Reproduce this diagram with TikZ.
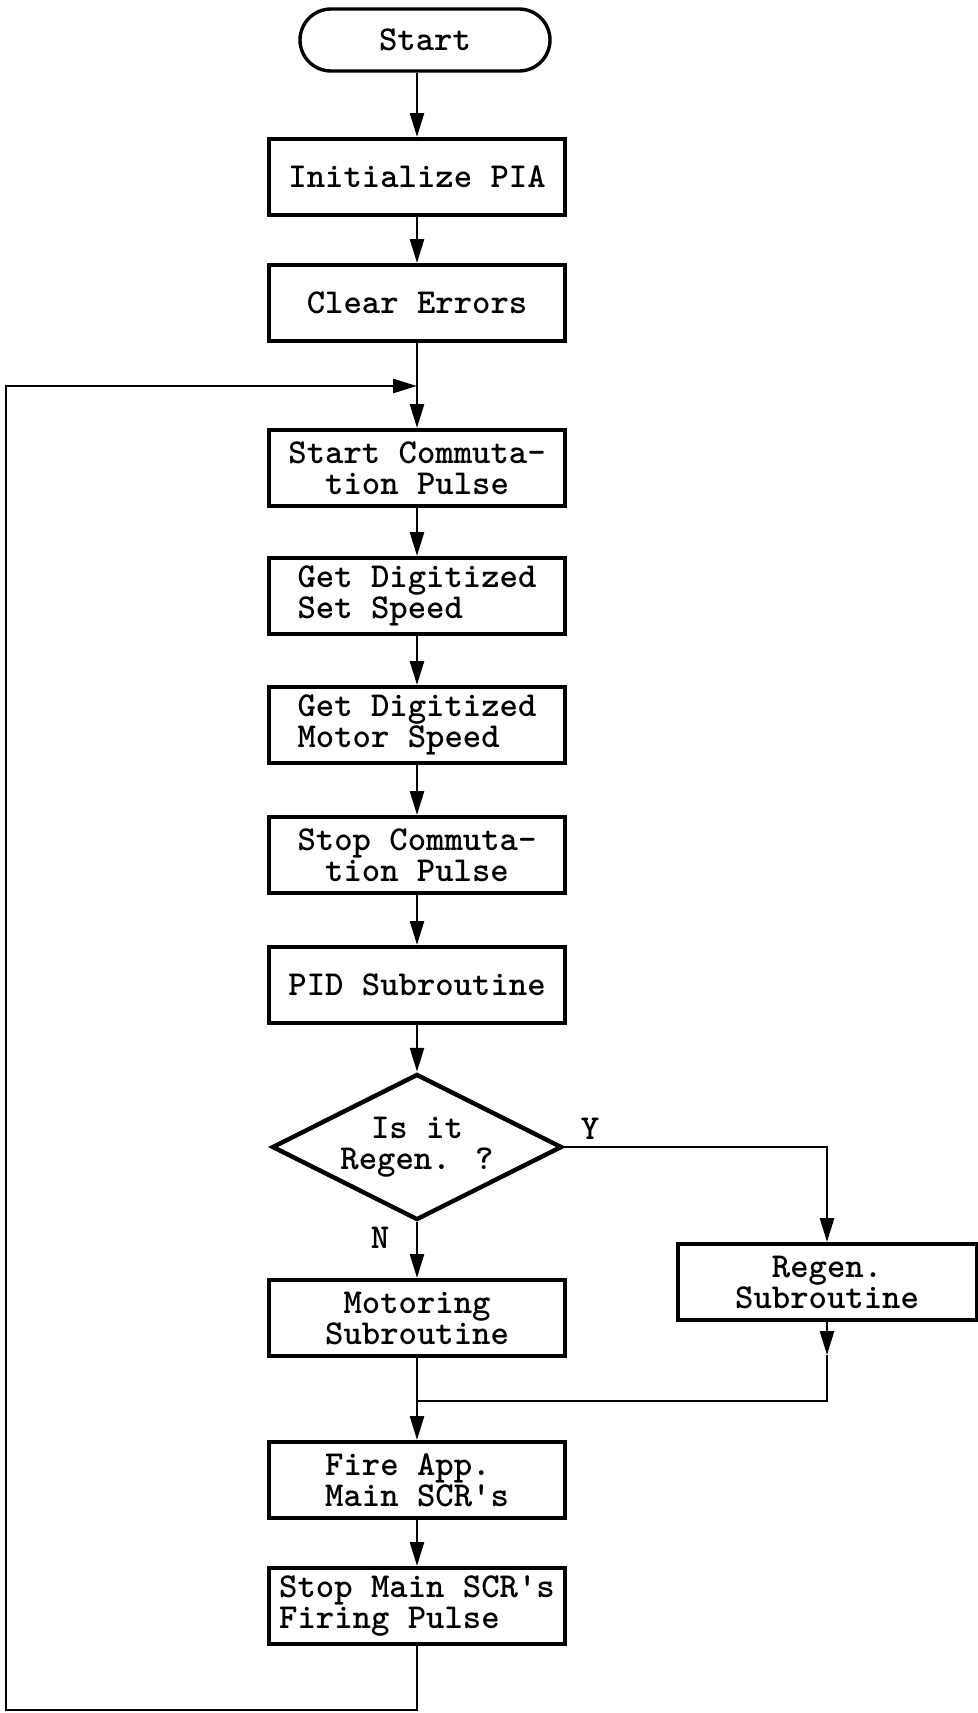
\documentclass[tikz,border=0pt]{standalone}
\usepackage{fontspec}
\usetikzlibrary{arrows.meta,shapes.geometric}

\begin{document}
\begin{tikzpicture}[x=0.5pt,y=-0.5pt,font=\ttfamily\bfseries\fontsize{17.5}{15.5}\selectfont,
  box/.style={draw,line width=2pt,minimum width=148pt,minimum height=38pt,inner sep=2pt},
  term/.style={draw,line width=1.7pt,rounded corners=15.5pt,minimum width=125pt,minimum height=31pt},
  dec/.style={draw,diamond,aspect=2,line width=2.2pt,minimum width=145pt,minimum height=73pt,inner sep=0pt,align=center},
  line/.style={line width=1.3pt},
  flow/.style={line,-{Triangle[length=12pt,width=7pt]}}]
  \useasboundingbox (0,0) rectangle (978,1713);
  % main column
  \node[term] (start) at (425,40) {Start};
  \node[box] (init) at (417,177) {Initialize PIA};
  \node[box] (clear) at (417,303) {Clear Errors};
  \node[box,align=center] (scom) at (417,468) {Start Commuta-\\tion Pulse};
  \node[box,align=left] (gset) at (417,596) {Get Digitized\\Set Speed};
  \node[box,align=left] (gmot) at (417,725) {Get Digitized\\Motor Speed};
  \node[box,align=center] (stcom) at (417,855) {Stop Commuta-\\tion Pulse};
  \node[box] (pid) at (417,985) {PID Subroutine};
  \node[dec] (regq) at (417,1147) {Is it\\Regen. ?};
  \node[box,align=center] (mot) at (417,1318) {Motoring\\Subroutine};
  \node[box,align=center,minimum width=149.5pt] (regen) at (827,1282) {Regen.\\Subroutine};
  \node[box,align=left] (fire) at (417,1480) {Fire App.\\Main SCR's};
  \node[box,align=left] (stmain) at (417,1606) {Stop Main SCR's\\Firing Pulse};
  \node (ylab) at (590,1129) {Y};
  \node (nlab) at (380,1238) {N};
  % connectors
  \draw[flow] (init |- start.south) -- (init);
  \draw[flow] (init) -- (clear);
  \draw[flow] (clear) -- (scom);
  \draw[flow] (scom) -- (gset);
  \draw[flow] (gset) -- (gmot);
  \draw[flow] (gmot) -- (stcom);
  \draw[flow] (stcom) -- (pid);
  \draw[flow] (pid) -- (regq);
  \draw[flow] (regq) -- (mot);
  \draw[flow] (regq.east) -| (regen);
  \coordinate (rmid) at (827,1355);
  \coordinate (merge) at (827,1401);
  \draw[flow] (regen) -- (rmid);
  \draw[line] (rmid) -- (merge) -- (merge -| mot);
  \draw[flow] (mot) -- (fire);
  \draw[flow] (fire) -- (stmain);
  % loop back
  \coordinate (back) at (6,1710);
  \coordinate (entry) at (417,386);
  \draw[flow] (stmain.south) |- (back) |- (entry);
\end{tikzpicture}
\end{document}
